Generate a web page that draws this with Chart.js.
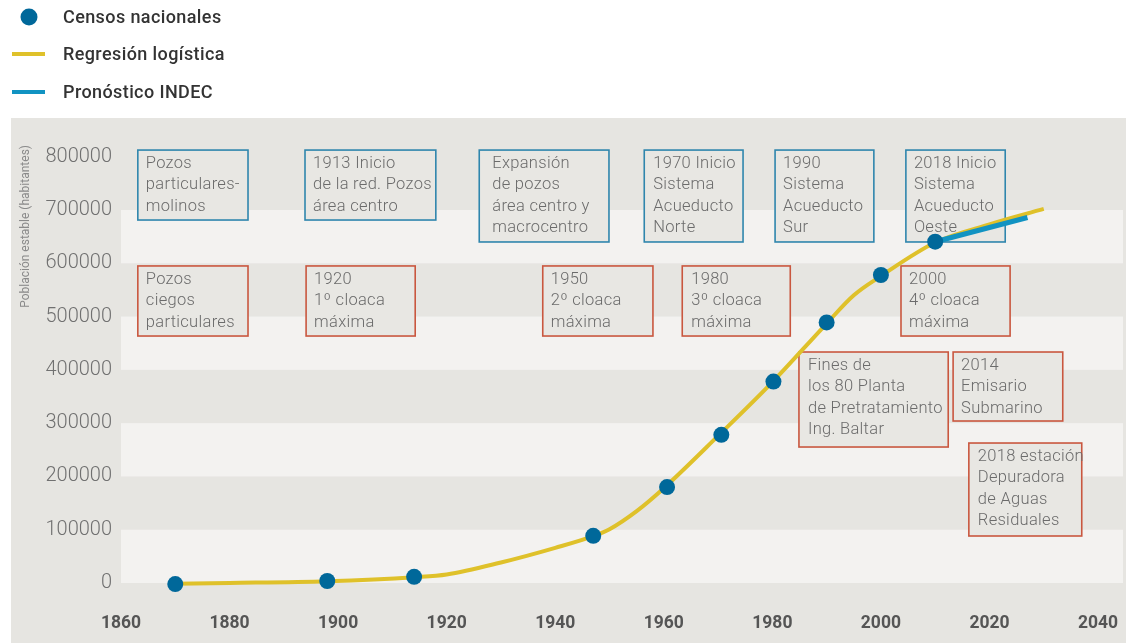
<!DOCTYPE html>
<html>
<head>
<meta charset="utf-8">
<script src="https://cdn.jsdelivr.net/npm/chart.js@4/dist/chart.umd.min.js"></script>
<style>
html,body{margin:0;padding:0;background:#fff;}
#wrap{position:relative;width:1126px;height:643px;}
</style>
</head>
<body>
<div id="wrap"><canvas id="c" width="1126" height="643"></canvas></div>
<script>
// ---- data ----
const censusYears  = [1870, 1898, 1914, 1947, 1960.6, 1970.6, 1980.2, 1990, 2000, 2010];
const censusValues = [-2000, 3800, 11500, 88500, 180000, 278000, 378000, 489000, 578000, 640500];

const logisticYears  = [1870, 1880, 1898, 1914, 1920, 1930, 1940, 1947, 1950, 1955, 1960, 1970, 1980, 1990, 1995, 2000, 2010, 2020, 2030];
const logisticValues = [-1500, 0, 3500, 11000, 16000, 38500, 66000, 88000, 101000, 135000, 178000, 276000, 377000, 487000, 540000, 576000, 639000, 673000, 702000];

const indecYears  = [2010, 2027];
const indecValues = [640500, 686000];

const xTicks = [1860, 1880, 1900, 1920, 1940, 1960, 1980, 2000, 2020, 2040];
const yTicks = [0, 100000, 200000, 300000, 400000, 500000, 600000, 700000, 800000];

const seriesLabels = ["Censos nacionales", "Regresión logística", "Pronóstico INDEC"];
const yTitle = "Población estable (habitantes)";

// annotation notes (text + extent in data units)
const noteLines = [
  ["Pozos", "particulares-", "molinos"],
  ["1913 Inicio", "de la red. Pozos", "área centro"],
  ["Expansión", "de pozos", "área centro y", "macrocentro"],
  ["1970 Inicio", "Sistema", "Acueducto", "Norte"],
  ["1990", "Sistema", "Acueducto", "Sur"],
  ["2018 Inicio", "Sistema", "Acueducto", "Oeste"],
  ["Pozos", "ciegos", "particulares"],
  ["1920", "1º cloaca", "máxima"],
  ["1950", "2º cloaca", "máxima"],
  ["1980", "3º cloaca", "máxima"],
  ["2000", "4º cloaca", "máxima"],
  ["Fines de", "los 80 Planta", "de Pretratamiento", "Ing. Baltar"],
  ["2014", "Emisario", "Submarino"],
  ["2018 estación", "Depuradora", "de Aguas", "Residuales"]
];
const noteKind = ["agua","agua","agua","agua","agua","agua","cloaca","cloaca","cloaca","cloaca","cloaca","cloaca","cloaca","cloaca"];
const noteYearFrom = [1863.1, 1893.9, 1926.0, 1956.4, 1980.5, 2004.6, 1863.1, 1894.1, 1937.7, 1963.4, 2003.7, 1984.9, 2013.3, 2016.2];
const noteYearTo   = [1883.4, 1918.0, 1949.9, 1974.6, 1998.7, 2022.9, 1883.4, 1914.2, 1958.0, 1983.3, 2023.8, 2012.4, 2033.5, 2037.0];
const noteValTop   = [812500, 812500, 812500, 812500, 812500, 812500, 595000, 595000, 595000, 595000, 595000, 433500, 433500, 262700];
const noteValBot   = [681200, 681200, 640000, 640000, 640000, 640000, 463500, 463500, 463500, 463500, 463500, 255200, 304000, 88200];
const noteIndent   = [8, 8, 13, 9, 8, 8, 8, 8, 8, 9, 8, 9, 8, 9];

// ---- styles ----
const C_POINT = '#00689a';
const C_LOGI  = '#dfc12a';
const C_INDEC = '#1193c2';
const C_BG    = '#e6e5e1';
const C_BAND  = '#f3f2f0';
const C_BOX   = '#e8e7e3';
const C_BLUEB = '#2f86ad';
const C_REDB  = '#c9573f';
const FONT = 'Roboto, "Noto Sans", sans-serif';

const toXY = (xs, ys) => xs.map((x, i) => ({x: x, y: ys[i]}));

const bgPlugin = {
  id: 'bg',
  beforeDraw(chart) {
    const {ctx, chartArea: a, scales: {y}} = chart;
    ctx.save();
    ctx.fillStyle = '#ffffff';
    ctx.fillRect(0, 0, chart.width, chart.height);
    ctx.fillStyle = C_BG;
    ctx.fillRect(11, 118, chart.width - 11, chart.height - 118);
    ctx.fillStyle = C_BAND;
    for (let i = 0; i + 1 < yTicks.length; i += 2) {
      const p0 = y.getPixelForValue(yTicks[i]);
      const p1 = y.getPixelForValue(yTicks[i + 1]);
      ctx.fillRect(a.left, p1, a.right - a.left, p0 - p1);
    }
    ctx.restore();
  }
};

const notesPlugin = {
  id: 'notes',
  beforeDatasetsDraw(chart) {
    const {ctx, scales: {x, y}} = chart;
    ctx.save();
    for (let i = 0; i < noteLines.length; i++) {
      const l = x.getPixelForValue(noteYearFrom[i]);
      const r = x.getPixelForValue(noteYearTo[i]);
      const t = y.getPixelForValue(noteValTop[i]);
      const b = y.getPixelForValue(noteValBot[i]);
      ctx.fillStyle = C_BOX;
      ctx.fillRect(l, t, r - l, b - t);
      ctx.strokeStyle = noteKind[i] === 'agua' ? C_BLUEB : C_REDB;
      ctx.lineWidth = 1.6;
      ctx.strokeRect(l, t, r - l, b - t);
      ctx.fillStyle = '#6b6b6b';
      ctx.font = '300 16.5px ' + FONT;
      if ('letterSpacing' in ctx) ctx.letterSpacing = '0.3px';
      ctx.textAlign = 'left';
      ctx.textBaseline = 'middle';
      noteLines[i].forEach((s, k) => {
        ctx.fillText(s, l + noteIndent[i], t + 13.5 + k * 21.5);
      });
    }
    ctx.restore();
  }
};

const legendPlugin = {
  id: 'customLegend',
  afterDraw(chart) {
    const {ctx} = chart;
    const rows = [17, 54, 92];
    ctx.save();
    chart.data.datasets.forEach((ds, i) => {
      const yy = rows[i];
      if (ds.showLine === false) {
        ctx.fillStyle = ds.backgroundColor;
        ctx.beginPath();
        ctx.arc(29, yy, 8.5, 0, Math.PI * 2);
        ctx.fill();
      } else {
        ctx.strokeStyle = ds.borderColor;
        ctx.lineWidth = 4;
        ctx.beginPath();
        ctx.moveTo(12, yy);
        ctx.lineTo(45, yy);
        ctx.stroke();
      }
      ctx.fillStyle = '#333333';
      ctx.font = '500 18px ' + FONT;
      if ('letterSpacing' in ctx) ctx.letterSpacing = '0.4px';
      ctx.textAlign = 'left';
      ctx.textBaseline = 'middle';
      ctx.fillText(ds.label, 63, yy + 1);
    });
    ctx.restore();
  }
};

new Chart(document.getElementById('c'), {
  type: 'line',
  data: {
    datasets: [
      {label: seriesLabels[0], data: toXY(censusYears, censusValues), showLine: false, pointRadius: 8, pointHoverRadius: 8, pointBorderWidth: 0, backgroundColor: C_POINT, borderColor: C_POINT, clip: false, order: 0},
      {label: seriesLabels[1], data: toXY(logisticYears, logisticValues), borderColor: C_LOGI, backgroundColor: C_LOGI, borderWidth: 4, pointRadius: 0, cubicInterpolationMode: 'monotone', clip: false, order: 2},
      {label: seriesLabels[2], data: toXY(indecYears, indecValues), borderColor: C_INDEC, backgroundColor: C_INDEC, borderWidth: 5, pointRadius: 0, clip: false, order: 1}
    ]
  },
  options: {
    responsive: false,
    animation: false,
    devicePixelRatio: 1,
    layout: {autoPadding: false, padding: {left: 11, right: 3, top: 145, bottom: 0}},
    plugins: {legend: {display: false}, tooltip: {enabled: false}},
    scales: {
      x: {
        type: 'linear', min: 1860, max: 2044.6,
        afterBuildTicks: s => { s.ticks = xTicks.map(v => ({value: v})); },
        afterFit: s => { s.height = 60; s.paddingLeft = 0; s.paddingRight = 0; },
        grid: {display: false, drawTicks: false},
        border: {display: false},
        ticks: {padding: 30, color: '#555555', font: {family: FONT, size: 17.5, weight: 'bold'}, callback: v => String(v)}
      },
      y: {
        type: 'linear', min: 0, max: 822000,
        afterBuildTicks: s => { s.ticks = yTicks.map(v => ({value: v})); },
        afterFit: s => { s.width = 110; s.paddingTop = 0; s.paddingBottom = 0; },
        grid: {display: false, drawTicks: false},
        border: {display: false},
        ticks: {padding: 9, color: '#707070', font: {family: FONT, size: 20, weight: 300}, callback: v => String(v)},
        title: {display: true, text: yTitle, align: 'end', color: '#8a8a8a', font: {family: FONT, size: 12}, padding: {top: 8, bottom: 0}}
      }
    }
  },
  plugins: [bgPlugin, notesPlugin, legendPlugin]
});
</script>
</body>
</html>
